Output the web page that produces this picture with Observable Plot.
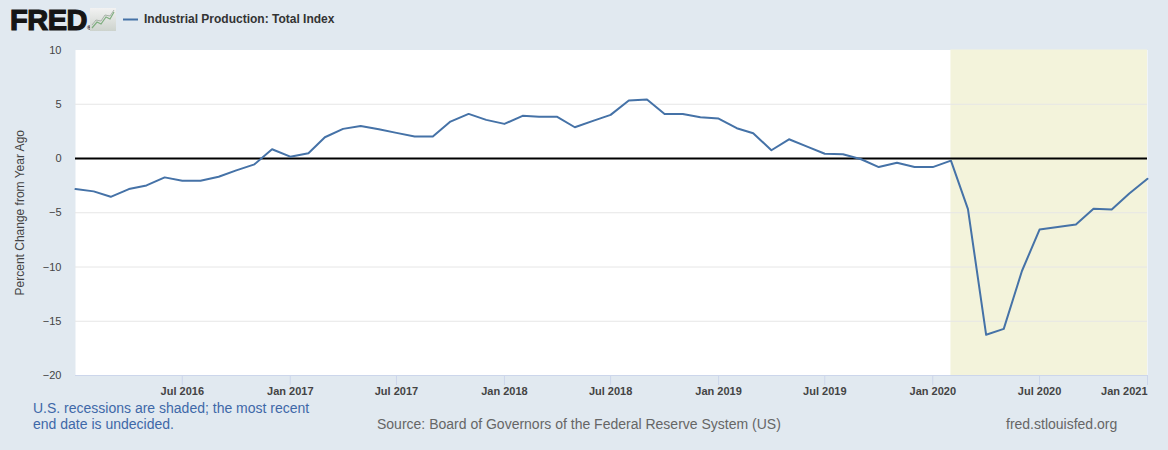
<!DOCTYPE html>
<html>
<head>
<meta charset="utf-8">
<script src="https://cdn.jsdelivr.net/npm/d3@7"></script>
<script src="https://cdn.jsdelivr.net/npm/@observablehq/plot@0.6"></script>
<style>
  html, body { margin: 0; padding: 0; background: #e1e9f0; }
  #wrap { position: relative; width: 1168px; height: 450px; background: #e1e9f0; font-family: "Liberation Sans", Arial, sans-serif; overflow: hidden; }
  #chart { position: absolute; left: 0; top: 0; }
  .abs { position: absolute; white-space: nowrap; }
</style>
</head>
<body>
<div id="wrap">
  <div id="chart"></div>
  <div class="abs" style="left:10px; top:4px; font-size:29px; font-weight:bold; color:#151515; -webkit-text-stroke:1.2px #151515; letter-spacing:-0.5px; line-height:32px;">FRED<span style="font-size:6px; letter-spacing:0; -webkit-text-stroke:0; vertical-align:baseline;">®</span></div>
  <svg class="abs" style="left:90px; top:8px;" width="26" height="23" viewBox="0 0 26 23">
    <defs><linearGradient id="lg" x1="0" y1="0" x2="0" y2="1"><stop offset="0" stop-color="#f2f2f2"/><stop offset="1" stop-color="#cdd3cd"/></linearGradient></defs>
    <rect x="0" y="0" width="26" height="23" fill="url(#lg)"/>
    <polyline points="2,20 7,14 11,16 16,9 20,11 24,4" fill="none" stroke="#7fae7f" stroke-width="1.2"/>
    <polyline points="2,17 6,12 11,13 15,7 20,8 24,2" fill="none" stroke="#a9b3a9" stroke-width="1"/>
  </svg>
  <svg class="abs" style="left:123px; top:18px;" width="15" height="3"><line x1="0" y1="1.5" x2="15" y2="1.5" stroke="#4572a7" stroke-width="2"/></svg>
  <div class="abs" style="left:144px; top:12px; font-size:12px; font-weight:bold; color:#333; line-height:14px;">Industrial Production: Total Index</div>
  <div class="abs" style="left:33px; top:400px; font-size:14px; color:#3e68a8; line-height:16px;">U.S. recessions are shaded; the most recent<br>end date is undecided.</div>
  <div class="abs" style="left:377px; top:416px; font-size:14px; color:#666; line-height:16px;">Source: Board of Governors of the Federal Reserve System (US)</div>
  <div class="abs" style="left:1006px; top:416px; font-size:14px; color:#666; line-height:16px;">fred.stlouisfed.org</div>
</div>
<script>
// Monthly observations, Jan 2016 .. Jan 2021
const startMonth = "2016-01";
const values = [
  -2.82, -3.03, -3.53, -2.82, -2.48, -1.74, -2.05, -2.05, -1.68, -1.09, -0.54, 0.85,
  0.17, 0.48, 1.96, 2.73, 3.00, 2.70, 2.36, 2.02, 2.02, 3.40, 4.11, 3.56,
  3.19, 3.93, 3.84, 3.84, 2.88, 3.47, 4.02, 5.34, 5.43, 4.11, 4.11, 3.80,
  3.68, 2.79, 2.33, 0.76, 1.77, 1.09, 0.44, 0.39, -0.07, -0.79, -0.39, -0.79,
  -0.79, -0.20, -4.67, -16.25, -15.70, -10.37, -6.55, -6.32, -6.08, -4.64, -4.70, -3.22,
  -1.87
];
const xDomain = ["2016-01-01", "2021-01-01"];
const yDomain = [-20, 10];
const yTicks = [-20, -15, -10, -5, 0, 5, 10];
const yGrid = [-15, -10, -5, 5];
const xTickLabels = ["Jul 2016", "Jan 2017", "Jul 2017", "Jan 2018", "Jul 2018", "Jan 2019", "Jul 2019", "Jan 2020", "Jul 2020", "Jan 2021"];
const recessionStart = "2020-02-01";
const recessionEnd = "2021-01-01";
const seriesName = "Industrial Production: Total Index";
const yLabel = "Percent Change from Year Ago";

const start = d3.utcParse("%Y-%m")(startMonth);
const data = values.map((v, i) => ({ date: d3.utcMonth.offset(start, i), value: v }));
const parseTick = d3.utcParse("%b %Y");
const ticks = xTickLabels.map(s => ({ date: parseTick(s), label: s }));
const recession = [{ x1: new Date(recessionStart), x2: new Date(recessionEnd) }];

const chart = Plot.plot({
  width: 1168,
  height: 450,
  marginTop: 49.5,
  marginLeft: 75,
  marginRight: 21,
  marginBottom: 75,
  style: { background: "transparent", fontFamily: "Liberation Sans, Arial, sans-serif", overflow: "visible" },
  x: { type: "utc", domain: xDomain.map(d => new Date(d)) },
  y: { domain: yDomain },
  marks: [
    Plot.frame({ fill: "white", stroke: null }),
    Plot.rect(recession, { x1: "x1", x2: "x2", y1: yDomain[0], y2: yDomain[1], fill: "#f3f3db" }),
    Plot.gridY(yGrid, { stroke: "#e6e6e6", strokeOpacity: 1, strokeWidth: 1 }),
    Plot.ruleY([0], { stroke: "#000", strokeWidth: 2 }),
    Plot.line(data, { x: "date", y: "value", stroke: "#4572a7", strokeWidth: 2, strokeLinejoin: "round" }),
    Plot.ruleY([yDomain[0]], { stroke: "#ccd6eb", strokeWidth: 1 }),
    Plot.axisX({ ticks: ticks.map(t => t.date), tickSize: 10, tickFormat: () => "", stroke: "#ccd6eb", strokeOpacity: 1, label: null }),
    Plot.text(ticks.slice(0, -1), { x: "date", text: "label", frameAnchor: "bottom", dy: 16, lineAnchor: "middle", textAnchor: "middle", fontSize: 11, fontWeight: "bold", fill: "#444" }),
    Plot.text(ticks.slice(-1), { x: "date", text: "label", frameAnchor: "bottom", dy: 16, lineAnchor: "middle", textAnchor: "end", fontSize: 11, fontWeight: "bold", fill: "#444" }),
    Plot.axisY({ ticks: yTicks, tickSize: 0, tickPadding: 14, fontSize: 11, color: "#444", label: null }),
    Plot.text([yLabel], { frameAnchor: "left", dx: -55, rotate: -90, textAnchor: "middle", lineAnchor: "middle", fontSize: 12, fill: "#444" })
  ]
});
document.getElementById("chart").appendChild(chart);
</script>
</body>
</html>
